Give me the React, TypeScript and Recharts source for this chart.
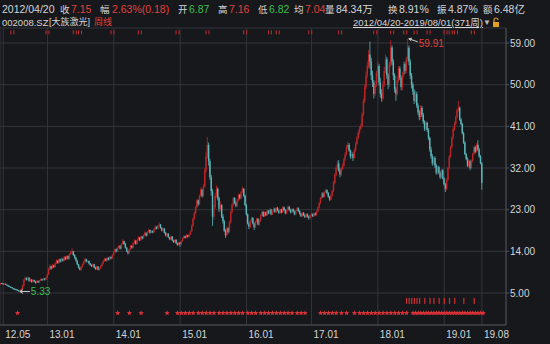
import React from "react";
import { ComposedChart, Bar, Scatter, XAxis, YAxis, CartesianGrid } from "recharts";

// weekly bars 2012/04/20 - 2019/08/01, 371 weeks
const opens = [
  6.87, 7.15, 7.05, 6.95, 7.0, 6.8, 6.6, 6.5, 6.3, 6.2,
  6.0, 5.9, 5.8, 5.7, 5.55, 5.45, 5.6, 5.9, 6.6, 7.8,
  8.2, 7.9, 8.3, 7.6, 7.9, 7.4, 7.8, 7.5, 7.2, 7.6,
  7.3, 7.7, 8.0, 7.8, 8.1, 7.9, 8.3, 9.0, 10.2, 10.8,
  10.3, 11.0, 10.6, 11.4, 12.0, 11.5, 12.3, 11.8, 12.4, 12.0,
  12.8, 12.3, 13.0, 12.4, 13.4, 13.8, 14.0, 13.2, 12.6, 12.0,
  11.2, 10.5, 10.0, 10.6, 11.2, 11.8, 12.3, 11.8, 11.9, 11.4,
  11.0, 10.8, 11.2, 10.5, 10.2, 10.7, 10.0, 10.3, 10.8, 11.3,
  11.9, 12.4, 12.0, 12.6, 12.2, 12.8, 12.5, 13.2, 13.8, 14.4,
  14.0, 14.8, 15.2, 14.6, 15.6, 16.2, 15.6, 14.8, 14.0, 13.6,
  14.4, 15.2, 14.8, 15.8, 16.3, 15.6, 16.4, 17.0, 16.4, 17.2,
  16.8, 17.5, 18.0, 17.4, 18.2, 18.6, 18.0, 18.4, 18.1, 18.8,
  19.3, 18.9, 19.5, 19.8, 19.1, 18.5, 18.9, 18.0, 17.4, 17.8,
  17.0, 16.6, 17.2, 16.4, 16.0, 16.5, 15.8, 15.4, 15.9, 15.5,
  16.2, 16.8, 17.3, 16.9, 17.5, 17.1, 17.6, 18.3, 19.5, 21.0,
  22.2, 23.5, 25.0, 24.2, 26.0, 27.3, 26.0, 28.0, 31.5, 34.5,
  37.0, 33.5, 30.0, 27.0, 21.5, 23.5, 26.0, 27.5, 25.5, 23.2,
  24.0, 21.5, 20.5, 18.5, 17.5, 19.0, 18.2, 20.3, 22.5, 24.0,
  25.5, 24.5, 23.8, 25.0, 26.2, 25.5, 26.8, 27.5, 26.0, 24.0,
  22.0, 20.0, 19.3, 20.5, 21.2, 20.0, 19.2, 20.4, 21.0, 19.8,
  20.6, 21.8, 22.5, 21.6, 22.4, 21.8, 22.8, 22.2, 23.0, 22.0,
  22.7, 23.2, 22.5, 23.4, 22.8, 22.3, 23.0, 22.4, 23.5, 22.9,
  22.2, 22.8, 23.6, 23.0, 22.4, 23.1, 22.6, 22.0, 22.8, 23.3,
  22.7, 22.1, 21.6, 22.3, 21.8, 21.4, 22.0, 21.5, 21.2, 21.8,
  22.0, 21.6, 22.2, 21.9, 22.6, 23.5, 24.4, 25.5, 26.5, 25.8,
  26.8, 27.2, 26.6, 25.8, 25.2, 26.0, 27.0, 28.8, 30.5, 32.0,
  33.0, 31.5, 30.6, 31.8, 32.5, 33.8, 35.0, 36.5, 37.0, 35.8,
  34.5, 35.0, 34.2, 35.8, 37.2, 38.5, 39.6, 40.5, 41.0, 43.5,
  46.5, 49.5, 52.0, 54.0, 56.5, 55.0, 52.0, 50.5, 48.0, 50.0,
  52.5, 54.0, 50.5, 48.0, 47.0, 50.0, 53.0, 55.5, 52.0, 50.0,
  54.5, 58.0, 55.0, 52.0, 49.0, 48.0, 51.0, 53.5, 51.5, 49.5,
  52.0, 54.5, 53.0, 55.5, 58.0, 55.0, 52.0, 50.0, 48.5, 46.5,
  48.0, 45.5, 44.0, 43.0, 45.0, 43.5, 42.0, 40.5, 41.8, 40.2,
  38.5, 36.0, 34.5, 33.0, 34.2, 32.5, 31.0, 32.2, 31.0, 30.0,
  31.5, 29.8, 28.5, 27.5, 29.5, 32.0, 34.5, 36.5, 38.5, 40.5,
  41.5, 43.0, 44.5, 45.0, 42.5, 41.5, 39.5, 37.5, 35.0, 34.0,
  32.5, 33.5, 32.0, 33.5, 35.0, 36.5, 35.5, 37.0, 36.0, 34.5,
  33.0,
];

const highs = [
  7.16, 7.2, 7.1, 7.1, 7.05, 6.85, 6.7, 6.6, 6.4, 6.3,
  6.1, 6.0, 5.9, 5.8, 5.65, 5.75, 6.0, 6.8, 8.0, 8.6,
  8.4, 8.5, 8.4, 8.1, 8.0, 7.9, 7.9, 7.6, 7.8, 7.7,
  7.8, 8.2, 8.1, 8.3, 8.2, 8.5, 9.2, 10.5, 11.2, 10.9,
  11.3, 11.1, 11.6, 12.3, 12.1, 12.5, 12.4, 12.7, 12.5, 13.0,
  12.9, 13.2, 13.1, 13.6, 14.1, 14.7, 14.1, 13.4, 12.8, 12.1,
  11.3, 10.7, 10.8, 11.4, 12.0, 12.6, 12.4, 12.1, 12.0, 11.5,
  11.2, 11.4, 11.3, 10.7, 10.9, 10.8, 10.5, 11.0, 11.5, 12.1,
  12.6, 12.5, 12.8, 12.7, 13.0, 12.9, 13.4, 14.0, 14.6, 14.6,
  15.0, 15.4, 15.3, 15.8, 16.6, 16.3, 15.8, 14.9, 14.2, 14.6,
  15.4, 15.3, 16.0, 16.6, 16.4, 16.6, 17.3, 17.1, 17.4, 17.3,
  17.7, 18.3, 18.1, 18.4, 18.9, 18.7, 18.6, 18.5, 19.0, 19.6,
  19.4, 19.7, 20.3, 19.9, 19.2, 19.1, 19.0, 18.2, 18.0, 17.9,
  17.1, 17.4, 17.3, 16.5, 16.7, 16.6, 15.9, 16.1, 16.0, 16.4,
  17.0, 17.5, 17.4, 17.7, 17.6, 17.8, 18.5, 19.8, 21.3, 22.6,
  23.8, 25.3, 25.2, 26.3, 27.8, 27.5, 28.5, 32.0, 35.5, 38.7,
  37.5, 34.0, 30.5, 27.5, 24.0, 26.5, 28.3, 27.8, 25.8, 24.8,
  24.2, 22.0, 20.8, 18.8, 19.4, 19.2, 20.6, 22.8, 24.4, 25.8,
  25.7, 24.8, 25.4, 26.5, 26.4, 27.0, 28.0, 27.7, 26.3, 24.3,
  22.2, 20.3, 20.8, 21.5, 21.4, 20.2, 20.6, 21.3, 21.2, 20.9,
  22.0, 22.8, 22.7, 22.6, 22.6, 23.0, 22.9, 23.3, 23.2, 22.9,
  23.5, 23.4, 23.6, 23.6, 23.0, 23.2, 23.2, 23.8, 23.7, 23.1,
  23.0, 23.9, 23.8, 23.2, 23.3, 23.3, 22.8, 23.0, 23.6, 23.5,
  22.9, 22.3, 22.5, 22.5, 22.0, 22.2, 22.2, 21.7, 22.0, 22.3,
  22.2, 22.4, 22.4, 22.8, 23.7, 24.7, 25.8, 26.8, 26.8, 27.0,
  27.5, 27.4, 26.8, 26.0, 26.3, 27.3, 29.2, 30.9, 32.5, 33.6,
  33.7, 31.9, 32.2, 33.0, 34.2, 35.5, 37.0, 37.6, 37.4, 36.0,
  35.5, 35.4, 36.2, 37.6, 38.9, 40.1, 41.0, 41.6, 44.0, 47.0,
  50.0, 52.8, 55.0, 57.5, 59.3, 55.8, 53.0, 51.0, 50.8, 53.0,
  55.0, 54.5, 51.5, 49.0, 50.8, 53.8, 56.5, 56.0, 52.5, 55.0,
  59.6, 58.5, 55.5, 52.5, 49.5, 51.8, 54.0, 54.0, 52.0, 52.8,
  55.0, 55.0, 56.0, 59.91, 58.5, 55.5, 52.5, 50.5, 49.0, 48.8,
  48.5, 46.0, 44.5, 45.6, 45.4, 43.9, 42.3, 42.2, 42.0, 40.6,
  38.8, 36.6, 35.0, 34.6, 34.5, 32.9, 32.5, 32.5, 31.4, 31.8,
  31.8, 30.0, 28.8, 29.8, 32.3, 34.8, 36.8, 38.8, 40.8, 42.0,
  43.3, 44.8, 46.5, 45.3, 42.8, 41.8, 39.8, 37.8, 35.3, 34.3,
  33.8, 33.8, 33.8, 35.3, 36.8, 36.8, 37.4, 38.0, 36.3, 34.8,
  33.3,
];

const lows = [
  6.82, 6.95, 6.85, 6.85, 6.75, 6.55, 6.4, 6.25, 6.1, 5.95,
  5.8, 5.7, 5.6, 5.5, 5.33, 5.4, 5.5, 5.8, 6.5, 7.6,
  7.7, 7.8, 7.4, 7.4, 7.2, 7.3, 7.3, 7.0, 7.1, 7.2,
  7.2, 7.6, 7.6, 7.7, 7.7, 7.8, 8.2, 8.9, 10.0, 10.0,
  10.2, 10.4, 10.5, 11.3, 11.3, 11.4, 11.6, 11.7, 11.8, 11.9,
  12.1, 12.2, 12.2, 12.3, 13.2, 13.5, 13.0, 12.4, 11.8, 11.0,
  10.3, 9.9, 9.8, 10.5, 11.1, 11.6, 11.6, 11.6, 11.2, 10.9,
  10.6, 10.7, 10.4, 10.0, 10.0, 9.9, 9.8, 10.2, 10.7, 11.2,
  11.8, 11.8, 11.9, 12.0, 12.1, 12.3, 12.4, 13.1, 13.6, 13.8,
  13.9, 14.6, 14.4, 14.5, 15.5, 15.4, 14.6, 13.9, 13.3, 13.5,
  14.3, 14.6, 14.7, 15.6, 15.4, 15.5, 16.3, 16.2, 16.3, 16.6,
  16.7, 17.3, 17.2, 17.3, 18.0, 17.8, 17.9, 17.9, 18.0, 18.6,
  18.7, 18.8, 19.3, 18.9, 18.3, 18.3, 17.8, 17.2, 17.2, 16.9,
  16.4, 16.5, 16.2, 15.8, 15.9, 15.6, 15.2, 15.3, 15.0, 15.4,
  16.1, 16.7, 16.8, 16.8, 17.0, 17.0, 17.5, 18.2, 19.3, 20.8,
  22.0, 23.3, 23.8, 24.0, 25.8, 25.6, 25.8, 27.8, 31.0, 34.0,
  32.5, 29.5, 26.0, 19.5, 20.8, 23.2, 25.6, 25.0, 22.5, 22.8,
  21.2, 20.0, 18.2, 16.9, 17.3, 17.8, 18.0, 20.0, 22.2, 23.8,
  24.2, 23.5, 23.6, 24.8, 25.2, 25.3, 26.6, 25.7, 23.7, 21.7,
  19.8, 18.8, 19.0, 20.3, 19.8, 18.6, 19.0, 20.2, 19.6, 19.6,
  20.4, 21.6, 21.4, 21.4, 21.6, 21.6, 22.0, 22.0, 21.8, 21.8,
  22.5, 22.3, 22.3, 22.6, 22.1, 22.1, 22.2, 22.3, 22.7, 22.0,
  22.0, 22.6, 22.8, 22.2, 22.2, 22.4, 21.8, 21.8, 22.6, 22.5,
  21.9, 21.4, 21.4, 21.6, 21.2, 21.2, 21.3, 20.8, 21.0, 21.6,
  21.4, 21.4, 21.7, 21.7, 22.4, 23.3, 24.2, 25.3, 25.6, 25.6,
  26.6, 26.3, 25.6, 24.9, 25.0, 25.8, 26.8, 28.5, 30.2, 31.6,
  31.2, 30.0, 30.3, 31.5, 32.2, 33.5, 34.7, 36.2, 35.5, 34.0,
  34.0, 33.5, 34.0, 35.5, 37.0, 38.2, 39.3, 40.2, 40.8, 43.2,
  46.0, 49.0, 51.5, 53.5, 53.5, 51.0, 49.5, 47.0, 47.5, 49.5,
  51.8, 49.8, 47.2, 46.3, 46.6, 49.5, 52.5, 51.3, 49.0, 49.5,
  53.8, 54.2, 51.0, 48.3, 46.5, 47.6, 50.5, 51.0, 48.8, 48.8,
  51.5, 52.3, 52.5, 55.0, 54.2, 51.2, 49.2, 47.8, 45.8, 46.0,
  45.0, 43.5, 42.3, 42.5, 43.0, 41.5, 40.0, 40.0, 39.8, 38.0,
  35.5, 34.0, 32.5, 32.6, 32.0, 30.5, 30.7, 30.6, 29.6, 29.7,
  29.5, 28.2, 26.8, 27.2, 29.2, 31.7, 34.2, 36.2, 38.2, 40.0,
  41.2, 42.7, 44.2, 42.2, 41.2, 39.2, 37.2, 34.8, 33.7, 32.2,
  32.2, 31.5, 31.8, 33.2, 34.8, 35.2, 35.3, 35.7, 34.2, 32.8,
  27.3,
];

const closes = [
  7.15, 7.05, 6.95, 7.0, 6.8, 6.6, 6.5, 6.3, 6.2, 6.0,
  5.9, 5.8, 5.7, 5.55, 5.45, 5.6, 5.9, 6.6, 7.8, 8.2,
  7.9, 8.3, 7.6, 7.9, 7.4, 7.8, 7.5, 7.2, 7.6, 7.3,
  7.7, 8.0, 7.8, 8.1, 7.9, 8.3, 9.0, 10.2, 10.8, 10.3,
  11.0, 10.6, 11.4, 12.0, 11.5, 12.3, 11.8, 12.4, 12.0, 12.8,
  12.3, 13.0, 12.4, 13.4, 13.8, 14.0, 13.2, 12.6, 12.0, 11.2,
  10.5, 10.0, 10.6, 11.2, 11.8, 12.3, 11.8, 11.9, 11.4, 11.0,
  10.8, 11.2, 10.5, 10.2, 10.7, 10.0, 10.3, 10.8, 11.3, 11.9,
  12.4, 12.0, 12.6, 12.2, 12.8, 12.5, 13.2, 13.8, 14.4, 14.0,
  14.8, 15.2, 14.6, 15.6, 16.2, 15.6, 14.8, 14.0, 13.6, 14.4,
  15.2, 14.8, 15.8, 16.3, 15.6, 16.4, 17.0, 16.4, 17.2, 16.8,
  17.5, 18.0, 17.4, 18.2, 18.6, 18.0, 18.4, 18.1, 18.8, 19.3,
  18.9, 19.5, 19.8, 19.1, 18.5, 18.9, 18.0, 17.4, 17.8, 17.0,
  16.6, 17.2, 16.4, 16.0, 16.5, 15.8, 15.4, 15.9, 15.5, 16.2,
  16.8, 17.3, 16.9, 17.5, 17.1, 17.6, 18.3, 19.5, 21.0, 22.2,
  23.5, 25.0, 24.2, 26.0, 27.3, 26.0, 28.0, 31.5, 34.5, 37.0,
  33.5, 30.0, 27.0, 21.5, 23.5, 26.0, 27.5, 25.5, 23.2, 24.0,
  21.5, 20.5, 18.5, 17.5, 19.0, 18.2, 20.3, 22.5, 24.0, 25.5,
  24.5, 23.8, 25.0, 26.2, 25.5, 26.8, 27.5, 26.0, 24.0, 22.0,
  20.0, 19.3, 20.5, 21.2, 20.0, 19.2, 20.4, 21.0, 19.8, 20.6,
  21.8, 22.5, 21.6, 22.4, 21.8, 22.8, 22.2, 23.0, 22.0, 22.7,
  23.2, 22.5, 23.4, 22.8, 22.3, 23.0, 22.4, 23.5, 22.9, 22.2,
  22.8, 23.6, 23.0, 22.4, 23.1, 22.6, 22.0, 22.8, 23.3, 22.7,
  22.1, 21.6, 22.3, 21.8, 21.4, 22.0, 21.5, 21.2, 21.8, 22.0,
  21.6, 22.2, 21.9, 22.6, 23.5, 24.4, 25.5, 26.5, 25.8, 26.8,
  27.2, 26.6, 25.8, 25.2, 26.0, 27.0, 28.8, 30.5, 32.0, 33.0,
  31.5, 30.6, 31.8, 32.5, 33.8, 35.0, 36.5, 37.0, 35.8, 34.5,
  35.0, 34.2, 35.8, 37.2, 38.5, 39.6, 40.5, 41.0, 43.5, 46.5,
  49.5, 52.0, 54.0, 56.5, 55.0, 52.0, 50.5, 48.0, 50.0, 52.5,
  54.0, 50.5, 48.0, 47.0, 50.0, 53.0, 55.5, 52.0, 50.0, 54.5,
  58.0, 55.0, 52.0, 49.0, 48.0, 51.0, 53.5, 51.5, 49.5, 52.0,
  54.5, 53.0, 55.5, 58.0, 55.0, 52.0, 50.0, 48.5, 46.5, 48.0,
  45.5, 44.0, 43.0, 45.0, 43.5, 42.0, 40.5, 41.8, 40.2, 38.5,
  36.0, 34.5, 33.0, 34.2, 32.5, 31.0, 32.2, 31.0, 30.0, 31.5,
  29.8, 28.5, 27.5, 29.5, 32.0, 34.5, 36.5, 38.5, 40.5, 41.5,
  43.0, 44.5, 45.0, 42.5, 41.5, 39.5, 37.5, 35.0, 34.0, 32.5,
  33.5, 32.0, 33.5, 35.0, 36.5, 35.5, 37.0, 36.0, 34.5, 33.0,
  28.8,
];

// x axis: week index of each label
const xTicks = [2, 36, 87, 138, 189, 239, 290, 341, 370];
const xLabels = ["12.05", "13.01", "14.01", "15.01", "16.01", "17.01", "18.01", "19.01", "19.08"];
const yTicks = [5, 14, 23, 32, 41, 50, 59];

// red info flags along the top
const infoWeeks = [9, 36, 57, 61, 86, 107, 136, 159, 188, 207, 213, 238, 261, 288, 301, 311, 319, 329, 342, 346, 350, 363];
// red stars along the bottom
const starWeeks = [
  13, 90, 99, 108, 128, 136, 139, 142, 145, 148, 152, 155, 158, 161, 164, 168, 171, 174, 177,
  180, 183, 186, 190, 193, 196, 200, 203, 206, 209, 212, 215, 218, 221, 224, 228, 231, 234,
  246, 249, 252, 255, 258, 262, 266, 272, 276, 279, 282, 285, 288, 291, 294, 297, 300, 303, 306, 309,
  312, 317, 319, 321, 323, 325, 327, 329, 331, 333, 335, 337, 339, 341, 343, 345, 347, 349, 351, 353,
  355, 357, 359, 361, 363, 365, 367, 369, 371,
];
// small red ticks above the stars
const tickWeeks = [312, 314, 316, 318, 320, 322, 326, 330, 333, 337, 341, 345, 349, 356, 364];

const lowMark = { i: 14, v: 5.33 };
const highMark = { i: 313, v: 59.91 };

const BG = "#17181c";
const UP = "#be2427";
const DOWN = "#5bb8bb";
const RED = "#e2403b";
const GREEN = "#3cbf4c";
const TXT = "#d6d6d6";
const GRID = "#33353a";
const FONT = "'Liberation Sans', Arial, 'Noto Sans CJK SC', sans-serif";

const rows = closes.map((c, i) => ({
  i,
  open: opens[i],
  close: c,
  high: Math.max(highs[i], opens[i], c),
  low: Math.min(lows[i], opens[i], c),
}));

const Candle = (props: any) => {
  const { x, y, width, height, payload } = props;
  const { open, close, high, low } = payload;
  const cx = x + width / 2;
  const color = close >= open ? UP : DOWN;
  const k = high > low ? height / (high - low) : 0;
  const top = y + (high - Math.max(open, close)) * k;
  const bh = Math.max(1, Math.abs(close - open) * k);
  return (
    <g>
      <line x1={cx} x2={cx} y1={y} y2={y + height} stroke={color} strokeWidth={0.8} />
      <rect x={cx - 0.7} y={top} width={1.4} height={bh} fill={color} />
    </g>
  );
};

const InfoFlag = (props: any) => {
  const { cx, cy } = props;
  return (
    <g stroke="#c92b2e" strokeWidth={1}>
      <line x1={cx - 1.5} x2={cx - 1.5} y1={cy - 2} y2={cy + 2} />
      <line x1={cx + 1.5} x2={cx + 1.5} y1={cy - 2} y2={cy + 2} />
    </g>
  );
};

const Star = (props: any) => {
  const { cx, cy } = props;
  const pts: string[] = [];
  for (let k = 0; k < 10; k++) {
    const r = k % 2 === 0 ? 2.8 : 1.2;
    const a = -Math.PI / 2 + (k * Math.PI) / 5;
    pts.push(`${cx + r * Math.cos(a)},${cy + r * Math.sin(a)}`);
  }
  return <polygon points={pts.join(" ")} fill="#dc3338" />;
};

const RedTick = (props: any) => {
  const { cx, cy } = props;
  return <rect x={cx - 0.5} y={cy - 3} width={1.2} height={6} fill="#d12f33" />;
};

const LowLabel = (props: any) => {
  const { cx, cy } = props;
  return (
    <g>
      <line x1={cx + 1} x2={cx + 11} y1={cy} y2={cy} stroke="#cfcfcf" strokeWidth={1} />
      <path d={`M${cx + 1},${cy} l3,-2 M${cx + 1},${cy} l3,2`} stroke="#cfcfcf" strokeWidth={1} fill="none" />
      <text x={cx + 12} y={cy} dominantBaseline="central" fontSize={10} fill={GREEN} fontFamily={FONT}>
        {lowMark.v.toFixed(2)}
      </text>
    </g>
  );
};

const HighLabel = (props: any) => {
  const { cx, cy } = props;
  return (
    <g>
      <line x1={cx + 1} x2={cx + 10} y1={cy} y2={cy + 3} stroke="#cfcfcf" strokeWidth={1} />
      <path d={`M${cx + 1},${cy} l3.2,-0.6 M${cx + 1},${cy} l2.4,2`} stroke="#cfcfcf" strokeWidth={1} fill="none" />
      <text x={cx + 11} y={cy + 4.5} dominantBaseline="central" fontSize={10} fill={RED} fontFamily={FONT}>
        {highMark.v.toFixed(2)}
      </text>
    </g>
  );
};

const XTick = (props: any) => {
  const { x, y, payload } = props;
  const label = xLabels[xTicks.indexOf(payload.value)];
  return (
    <text x={x + 2} y={y + 9} dominantBaseline="central" fontSize={10} fill={TXT} fontFamily={FONT}>
      {label}
    </text>
  );
};

const YTick = (props: any) => {
  const { x, y, payload } = props;
  return (
    <g>
      <line x1={x} x2={x + 3} y1={y} y2={y} stroke="#55575b" />
      <text x={x + 4} y={y} dominantBaseline="central" fontSize={10} fill={TXT} fontFamily={FONT}>
        {Number(payload.value).toFixed(2)}
      </text>
    </g>
  );
};

const Span = ({ x, y, size, color, children, style }: any) => (
  <span
    style={{
      position: "absolute",
      left: x,
      top: y,
      fontSize: size,
      lineHeight: "13px",
      color,
      whiteSpace: "nowrap",
      ...style,
    }}
  >
    {children}
  </span>
);

export default function App() {
  return (
    <div
      style={{
        position: "absolute",
        left: 0,
        top: 0,
        width: 550,
        height: 344,
        background: BG,
        overflow: "hidden",
        fontFamily: FONT,
      }}
    >
      <div style={{ position: "absolute", left: 0, top: 0 }}>
        <ComposedChart width={550} height={344} data={rows} margin={{ top: 28, right: 0, bottom: 0, left: 0 }}>
          <CartesianGrid stroke={GRID} strokeWidth={1} />
          <XAxis
            dataKey="i"
            type="number"
            domain={[-0.5, 388.5]}
            allowDataOverflow
            ticks={xTicks}
            interval={0}
            height={19}
            tickSize={0}
            tickMargin={0}
            tickLine={false}
            axisLine={{ stroke: "#4a4c50" }}
            tick={<XTick />}
          />
          <YAxis
            orientation="right"
            type="number"
            width={44}
            domain={[-1.91, 62.24]}
            allowDataOverflow
            ticks={yTicks}
            interval={0}
            tickSize={0}
            tickMargin={0}
            tickLine={false}
            axisLine={{ stroke: "#4a4c50" }}
            tick={<YTick />}
          />
          <Bar dataKey={(d: any) => [d.low, d.high]} barSize={1} shape={<Candle />} isAnimationActive={false} />
          <Scatter data={infoWeeks.map((i) => ({ i, v: 61.3 }))} dataKey="v" shape={<InfoFlag />} isAnimationActive={false} />
          <Scatter data={starWeeks.map((i) => ({ i, v: 0.68 }))} dataKey="v" shape={<Star />} isAnimationActive={false} />
          <Scatter data={tickWeeks.map((i) => ({ i, v: 3.3 }))} dataKey="v" shape={<RedTick />} isAnimationActive={false} />
          <Scatter data={[lowMark]} dataKey="v" shape={<LowLabel />} isAnimationActive={false} />
          <Scatter data={[highMark]} dataKey="v" shape={<HighLabel />} isAnimationActive={false} />
        </ComposedChart>
      </div>

      <Span x={2} y={3} size={10.5} color={TXT}>2012/04/20</Span>
      <Span x={60} y={3} size={9.5} color={TXT}>收</Span>
      <Span x={71} y={3} size={10.5} color={RED}>7.15</Span>
      <Span x={100} y={3} size={9.5} color={TXT}>幅</Span>
      <Span x={112} y={3} size={10.5} color={RED}>2.63%(0.18)</Span>
      <Span x={178} y={3} size={9.5} color={TXT}>开</Span>
      <Span x={189} y={3} size={10.5} color={GREEN}>6.87</Span>
      <Span x={218} y={3} size={9.5} color={TXT}>高</Span>
      <Span x={229} y={3} size={10.5} color={RED}>7.16</Span>
      <Span x={258} y={3} size={9.5} color={TXT}>低</Span>
      <Span x={269} y={3} size={10.5} color={GREEN}>6.82</Span>
      <Span x={294} y={3} size={9.5} color={TXT}>均</Span>
      <Span x={305} y={3} size={10.5} color={RED}>7.04</Span>
      <Span x={325} y={3} size={9.5} color={TXT}>量</Span>
      <Span x={336} y={3} size={10.5} color={TXT}>84.34万</Span>
      <Span x={388} y={3} size={9.5} color={TXT}>换</Span>
      <Span x={399} y={3} size={10.5} color={TXT}>8.91%</Span>
      <Span x={437} y={3} size={9.5} color={TXT}>振</Span>
      <Span x={448} y={3} size={10.5} color={TXT}>4.87%</Span>
      <Span x={483} y={3} size={9.5} color={TXT}>额</Span>
      <Span x={494} y={3} size={10.5} color={TXT}>6.48亿</Span>

      <Span x={2} y={16} size={9.5} color={TXT}>002008.SZ</Span>
      <Span x={49} y={16} size={9} color={TXT}>[大族激光]</Span>
      <Span x={94} y={16} size={9} color={RED}>周线</Span>
      <Span x={353} y={16} size={9.5} color={TXT} style={{ textDecoration: "underline" }}>
        2012/04/20-2019/08/01(371周)
      </Span>
      <Span x={483} y={16} size={8} color="#bbbbbb">▼</Span>
      <svg style={{ position: "absolute", left: 492, top: 17 }} width={8} height={11}>
        <path d="M2,5 V3 a2,2 0 0 1 4,0" stroke="#e0a020" strokeWidth={1.2} fill="none" />
        <rect x={1} y={5} width={6} height={5} fill="#e0a020" />
      </svg>
    </div>
  );
}
